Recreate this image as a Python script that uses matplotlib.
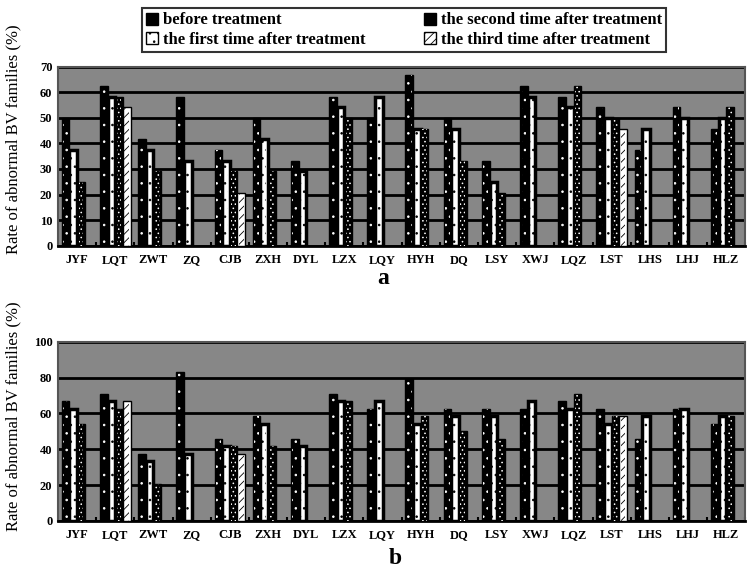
import matplotlib.pyplot as plt
from matplotlib.patches import Patch

names = ["JYF", "LQT", "ZWT", "ZQ", "CJB", "ZXH", "DYL", "LZX", "LQY",
         "HYH", "DQ", "LSY", "XWJ", "LQZ", "LST", "LHS", "LHJ", "HLZ"]
series = ["before treatment", "the first time after treatment",
          "the second time after treatment", "the third time after treatment"]

# panel a (0 = no bar)
a_before = [50, 62.5, 41.7, 58.3, 37.5, 50, 33.3, 58.3, 50, 66.7, 50, 33.3, 62.5, 58.3, 54.2, 37.5, 54.2, 45.8]
a_first = [37.5, 58.3, 37.5, 33.3, 33.3, 41.7, 29.2, 54.2, 58.3, 45.8, 45.8, 25, 58.3, 54.2, 50, 45.8, 50, 50]
a_second = [25, 58.3, 29.2, 0, 29.2, 29.2, 0, 50, 0, 45.8, 33.3, 20.8, 0, 62.5, 50, 0, 0, 54.2]
a_third = [0, 54.2, 0, 0, 20.8, 0, 0, 0, 0, 0, 0, 0, 0, 0, 45.8, 0, 0, 0]

# panel b
b_before = [66.7, 70.8, 37.5, 83.3, 45.8, 58.3, 45.8, 70.8, 62.5, 79.2, 62.5, 62.5, 62.5, 66.7, 62.5, 45.8, 62.5, 54.2]
b_first = [62.5, 66.7, 33.3, 37.5, 41.7, 54.2, 41.7, 66.7, 66.7, 54.2, 58.3, 58.3, 66.7, 62.5, 54.2, 58.3, 62.5, 58.3]
b_second = [54.2, 62.5, 20.8, 0, 41.7, 41.7, 0, 66.7, 0, 58.3, 50, 45.8, 0, 70.8, 58.3, 0, 0, 58.3]
b_third = [0, 66.7, 0, 0, 37.5, 0, 0, 0, 0, 0, 0, 0, 0, 0, 58.3, 0, 0, 0]

plt.rcParams['hatch.linewidth'] = 0.6
serif = ['Liberation Serif', 'DejaVu Serif']

# fill, outline, hatch, hatch colour
styles = [("black", "black", "..", "white"),
          ("white", "black", "..", "black"),
          ("black", "black", "....", "white"),
          ("white", "black", "////", "black")]

fig = plt.figure(figsize=(7.48, 5.69), dpi=100)


def panel(rect, data, ymax, step):
    ax = fig.add_axes(rect)
    ax.set_facecolor("#878787")
    w = 0.2
    for i, vals in enumerate(data):
        fc, ec, h, hc = styles[i]
        xs = [j + (i - 1.5) * w for j, v in enumerate(vals) if v > 0]
        hs = [v for v in vals if v > 0]
        ax.bar(xs, hs, w, color=fc, edgecolor=ec, linewidth=2.5 if i == 1 else 1, zorder=3)
        ax.bar(xs, hs, w * 0.6, color="none", edgecolor=hc, hatch=h, linewidth=0, zorder=4)
    ax.set_xlim(-0.5, len(names) - 0.5)
    ax.set_ylim(0, ymax)
    ax.set_yticks(range(0, ymax + 1, step))
    ax.yaxis.grid(True, color="black", linewidth=2)
    ax.set_axisbelow(True)
    ax.set_xticks(range(len(names)))
    ax.set_xticklabels(names)
    ax.set_xticks([k + 0.5 for k in range(len(names))], minor=True)
    ax.tick_params(axis="x", which="major", length=0, pad=6)
    ax.tick_params(axis="x", which="minor", direction="in", length=3, width=1.5)
    ax.tick_params(axis="y", length=0, pad=4)
    for lab in ax.get_xticklabels() + ax.get_yticklabels():
        lab.set_fontfamily(serif)
        lab.set_fontweight("bold")
        lab.set_fontsize(9)
    for s in ax.spines.values():
        s.set_color("#555555")
        s.set_linewidth(1.5)
    ax.spines["bottom"].set_color("black")
    ax.spines["bottom"].set_linewidth(2)
    return ax


panel([0.0775, 0.568, 0.919, 0.315], [a_before, a_first, a_second, a_third], 70, 10)
panel([0.0775, 0.0844, 0.919, 0.315], [b_before, b_first, b_second, b_third], 100, 20)

ylab = "Rate of abnormal BV families (%)"
fig.text(0.018, 0.756, ylab, rotation=90, ha="center", va="center", fontsize=12, family=serif)
fig.text(0.018, 0.269, ylab, rotation=90, ha="center", va="center", fontsize=12, family=serif)
fig.text(383 / 748, 1 - 278 / 569, "a", ha="center", va="center", fontsize=17, fontweight="bold", family=serif)
fig.text(395 / 748, 1 - 558 / 569, "b", ha="center", va="center", fontsize=17, fontweight="bold", family=serif)

handles = []
for (fc, ec, h, hc), name in zip(styles, series):
    handles.append(Patch(facecolor=fc, edgecolor=ec, hatch=h, label=name))
leg = fig.legend(handles=handles, ncol=2, loc="upper center", bbox_to_anchor=(404 / 748, 1.0),
                 fancybox=False, edgecolor="black", handlelength=0.7, handleheight=0.7,
                 handletextpad=0.3, columnspacing=3.5, borderpad=0.25, labelspacing=0.2,
                 prop={"family": serif, "weight": "bold", "size": 12})
leg.get_frame().set_linewidth(1.5)

fig.savefig("out.png", dpi=100)
